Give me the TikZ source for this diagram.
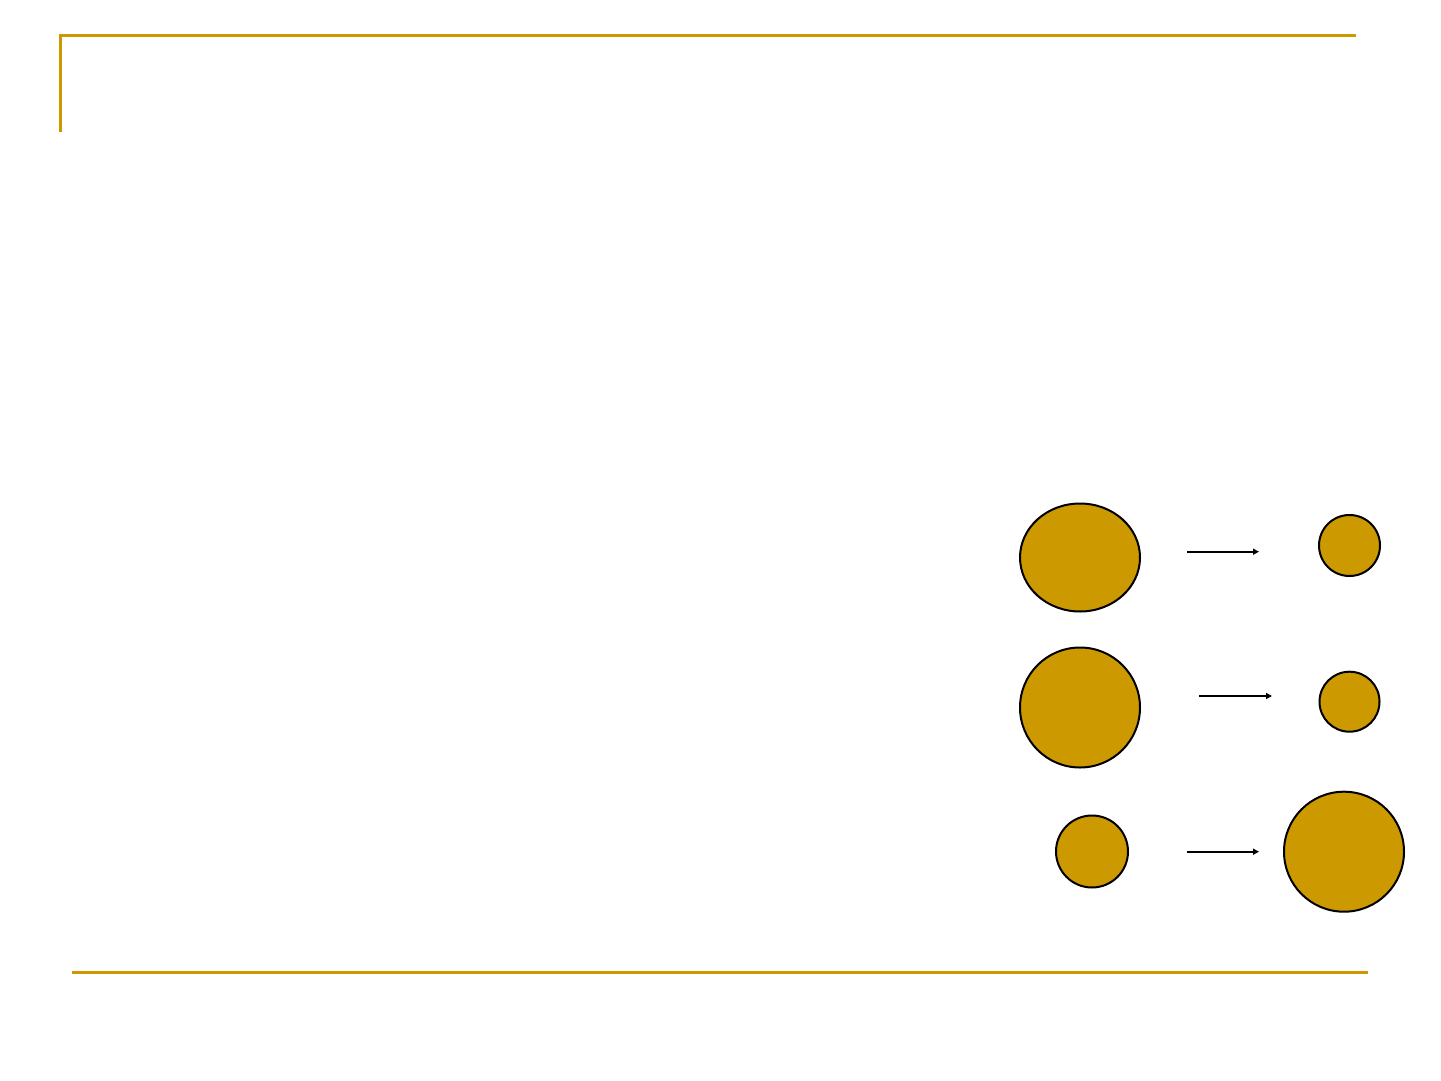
\documentclass[tikz,border=0pt]{standalone}
\usepackage{tikz}
\usetikzlibrary{arrows.meta,shapes.geometric}
\definecolor{gold}{HTML}{CC9900}
\begin{document}
\begin{tikzpicture}[x=1pt,y=-1pt,
  ball/.style={circle,draw=black,fill=gold,line width=2pt,inner sep=0pt},
  egg/.style={ellipse,draw=black,fill=gold,line width=2pt,inner sep=0pt},
  flow/.style={line width=2pt,-{Triangle[length=6pt,width=6pt]}}]
  \useasboundingbox (0,0) rectangle (1441,1081);

  % Frame lines of the slide
  \draw[gold, line width=3pt] (60.5,132) -- (60.5,36) -- (1356,36);
  \draw[gold, line width=3pt] (72,972.5) -- (1368,972.5);

  % Left column
  \node[egg, minimum width=120pt, minimum height=108pt] (big1) at (1080,557.5) {};
  \node[ball, minimum size=120pt] (big2) at (1080,707.5) {};
  \node[ball, minimum size=72pt] (small3) at (1092,851.5) {};

  % Right column
  \node[ball, minimum size=61pt] (small1) at (1349.5,545.5) {};
  \node[ball, minimum size=60pt] (small2) at (1349.5,701.7) {};
  \node[ball, minimum size=120pt] (big3) at (1344,851.7) {};

  % Arrows between the columns
  \coordinate (a1) at (1187,551.7);  \coordinate (b1) at (1259,551.7);
  \coordinate (a2) at (1199,696);    \coordinate (b2) at (1272,696);
  \coordinate (a3) at (1187,851.7);  \coordinate (b3) at (1259,851.7);
  \foreach \i in {1,2,3} {
    \draw[flow] (a\i) -- (b\i);
  }
\end{tikzpicture}
\end{document}
